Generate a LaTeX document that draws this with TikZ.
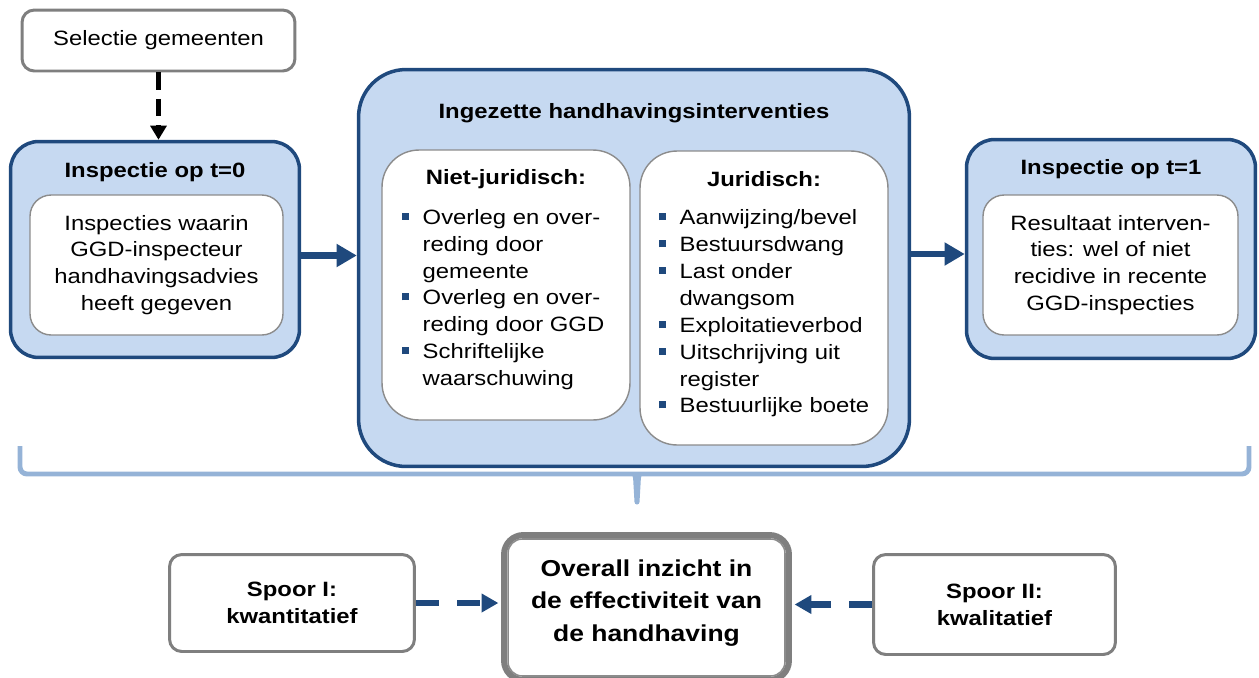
\documentclass[tikz,border=0pt]{standalone}
\usepackage{xcolor}
\usepackage{fontspec}
\setmainfont{Liberation Sans}[FakeStretch=1.15]
\usepackage{tikz}
\usetikzlibrary{arrows,arrows.meta,positioning}
\usetikzlibrary{calc}
\definecolor{lichtblauw}{HTML}{C6D9F1}
\definecolor{donkerblauw}{HTML}{1F497D}
\definecolor{accoladeblauw}{HTML}{95B3D7}
\definecolor{randgrijs}{HTML}{7F7F7F}
\definecolor{lijngrijs}{HTML}{8C8C8C}
\newcommand{\opsom}{\raisebox{2.6pt}{\textcolor{donkerblauw}{\rule{4pt}{4pt}}}}
\newcommand{\tekst}{\fontsize{11.8}{15.3}\selectfont}

\begin{document}
\begin{tikzpicture}[x=0.02cm, y=-0.02cm]
    \tikzstyle{every node}=[font=\tekst, inner sep=0pt]
    \tikzstyle{grijsblok}=[draw=randgrijs, line width=1.7pt, fill=white, rounded corners=7pt, align=center]
    \tikzstyle{blauwblok}=[draw=donkerblauw, line width=2pt, fill=lichtblauw]
    \tikzstyle{witblok}=[draw=lijngrijs, line width=0.8pt, fill=white, align=center]
    \tikzstyle{kop}=[font=\tekst\bfseries]
    \tikzstyle{dikpijl}=[-{Triangle[length=11.5pt,width=12.5pt]}, line width=3.7pt, donkerblauw]
    \tikzstyle{streeppijl}=[-{Triangle[length=9.6pt,width=10.2pt]}, line width=3.6pt, donkerblauw, dash pattern=on 13pt off 10.5pt]
    \useasboundingbox (0,0) rectangle (1259,677);
    % bovenste rij
    \node[grijsblok, minimum width=5.46cm, minimum height=1.22cm] (sel) at (158.5,40.5) {Selectie gemeenten}; %
    \node[blauwblok, rounded corners=16pt, minimum width=5.78cm, minimum height=4.32cm] (t0) at (155,249.5) {}; %
    \node[kop] (t0kop) at (155,172) {Inspectie op t=0}; %
    \node[witblok, rounded corners=12pt, minimum width=5.06cm, minimum height=2.8cm] (t0in) at (156.5,265) {Inspecties waarin\\GGD-inspecteur\\handhavingsadvies\\heeft gegeven}; %
    \node[blauwblok, rounded corners=27pt, minimum width=11.02cm, minimum height=7.94cm] (mid) at (634,268) {}; %
    \node[kop] (midkop) at (634,113) {Ingezette handhavingsinterventies}; %
    \node[witblok, rounded corners=21pt, minimum width=4.96cm, minimum height=5.4cm] (niet) at (506,285) {}; %
    \node[witblok, rounded corners=21pt, minimum width=4.96cm, minimum height=5.88cm] (jur) at (764,298) {}; %
    \node[kop] (nietkop) at (506,179) {Niet-juridisch:}; %
    \node[kop] (jurkop) at (764,179) {Juridisch:}; %
    \node[anchor=west] (nietlijst) at (402,299.5) {\begin{tabular}{@{}l@{\hspace{7.6pt}}l@{}}
      \opsom & Overleg en over-\\ & reding door\\ & gemeente\\
      \opsom & Overleg en over-\\ & reding door GGD\\
      \opsom & Schriftelijke\\ & waarschuwing\end{tabular}}; %
    \node[anchor=west] (jurlijst) at (659,313.5) {\begin{tabular}{@{}l@{\hspace{7.6pt}}l@{}}
      \opsom & Aanwijzing/bevel\\
      \opsom & Bestuursdwang\\
      \opsom & Last onder\\ & dwangsom\\
      \opsom & Exploitatieverbod\\
      \opsom & Uitschrijving uit\\ & register\\
      \opsom & Bestuurlijke boete\end{tabular}}; %
    \node[blauwblok, rounded corners=16pt, minimum width=5.78cm, minimum height=4.38cm] (t1) at (1111,249) {}; %
    \node[kop] (t1kop) at (1111,169) {Inspectie op t=1}; %
    \node[witblok, rounded corners=12pt, minimum width=5.1cm, minimum height=2.8cm] (t1in) at (1110.5,265) {Resultaat interven-\\ties: wel of niet\\recidive in recente\\GGD-inspecties}; %
    \draw[-{Triangle[length=8pt,width=9pt]}, line width=2.6pt, dash pattern=on 10pt off 5pt] (sel.south) -- (sel.south |- t0.north); %
    \draw[dikpijl] ($(t0.east)+(0,6)$) -- ($(t0.east -| mid.west)+(0,6)$); %
    \draw[dikpijl] ($(mid.east |- t1.west)+(0,5)$) -- ($(t1.west)+(0,5)$); %
    % accolade
    \draw[accoladeblauw, line width=2.8pt, rounded corners=4pt] (20,446) -- (20,474) -- (1249,474) -- (1249,446); %
    \fill[accoladeblauw] (622,472.6) .. controls (633,473) .. (633.5,485) -- (634.5,502) arc (180:0:2.5) -- (640.5,485) .. controls (641,473) .. (652,472.6) -- cycle; %
    % onderste rij
    \node[grijsblok, font=\tekst\bfseries, minimum width=4.9cm, minimum height=1.94cm, align=center] (sp1) at (292,603) {\fontsize{11.8}{19.3}\selectfont Spoor I:\\kwantitatief}; %
    \node[grijsblok, draw=randgrijs, line width=3.4pt, rounded corners=11pt, minimum width=5.7cm, minimum height=2.9cm] (ovr) at (646.5,607.5) {}; %
    \draw[lijngrijs, line width=0.9pt, rounded corners=8pt] ($(ovr.south west)+(7,-7)$) rectangle ($(ovr.north east)+(-7,7)$); %
    \node[font=\fontsize{13.1}{18.4}\selectfont\bfseries, align=center] (ovrtekst) at (646.5,603) {Overall inzicht in\\de effectiviteit van\\de handhaving}; %
    \node[grijsblok, font=\tekst\bfseries, minimum width=4.84cm, minimum height=2.0cm, align=center] (sp2) at (994.5,604.5) {\fontsize{11.8}{19.3}\selectfont Spoor II:\\kwalitatief}; %
    \draw[streeppijl, shorten >=1.5pt] (sp1.east) -- (sp1.east -| ovr.west); %
    \draw[streeppijl, shorten >=1.5pt] (sp2.west) -- (sp2.west -| ovr.east); %
\end{tikzpicture}
\end{document}
